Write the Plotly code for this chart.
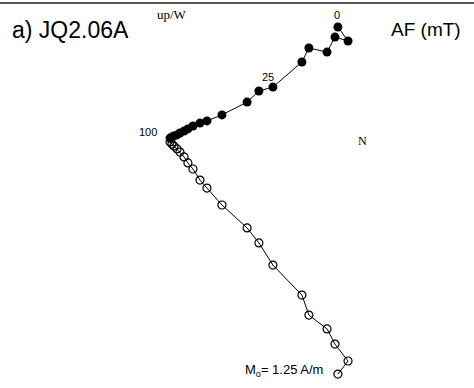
import plotly.graph_objects as go

af_mT = [0, 2.5, 5, 7.5, 10, 15, 25, 30, 35, 40, 45, 50, 55, 60, 65, 70, 75, 80, 90, 100]
north = [0.633, 0.675, 0.621, 0.588, 0.513, 0.484, 0.364, 0.306, 0.257, 0.153,
         0.091, 0.062, 0.033, 0.012, -0.004, -0.021, -0.033, -0.046, -0.054, -0.062]
west = [0.468, 0.410, 0.426, 0.364, 0.381, 0.323, 0.219, 0.203, 0.157, 0.104,
        0.079, 0.070, 0.058, 0.046, 0.037, 0.029, 0.021, 0.017, 0.012, 0.008]
up = [-0.969, -0.915, -0.845, -0.782, -0.725, -0.642, -0.518, -0.426, -0.364, -0.269,
      -0.199, -0.166, -0.120, -0.095, -0.070, -0.050, -0.037, -0.025, -0.017, -0.008]
labelled_steps = [0, 25, 100]

W, H = 474, 388
s = 0.00414          # A/m per pixel
ox, oy = 185, 140    # origin pixel
xr = [(0 - ox) * s, (W - ox) * s]
yr = [(oy - H) * s, (oy - 0) * s]

fig = go.Figure()
fig.add_trace(go.Scatter(x=north, y=up, mode="lines+markers",
                         line=dict(color="black", width=1),
                         marker=dict(symbol="circle-open", size=8, color="black",
                                     line=dict(width=1.2, color="black")),
                         showlegend=False, hoverinfo="skip"))
fig.add_trace(go.Scatter(x=north, y=west, mode="lines+markers",
                         line=dict(color="black", width=1),
                         marker=dict(symbol="circle", size=9, color="black"),
                         showlegend=False, hoverinfo="skip"))

shifts = {0: (-1, 12), 25: (-5, 10), 100: (-22, 6)}
for st in labelled_steps:
    i = af_mT.index(st)
    dx, dy = shifts[st]
    fig.add_annotation(x=north[i], y=west[i], xref="x", yref="y", text=str(st),
                       showarrow=False, xshift=dx, yshift=dy,
                       font=dict(family="Liberation Sans", size=11, color="black"))

def P(px, py):
    return px / W, 1 - py / H

anns = [
    ("a) JQ2.06A", 10, 30, 23, "Liberation Sans", "left"),
    ("AF (mT)", 463, 30, 19, "Liberation Sans", "right"),
    ("up/W", 172, 15, 13, "Liberation Serif", "center"),
    ("N", 362, 141, 12, "Liberation Serif", "center"),
    ("M<sub>o</sub>= 1.25 A/m", 243, 370, 13, "Liberation Sans", "left"),
]
for txt, px, py, sz, fam, xa in anns:
    x, y = P(px, py)
    fig.add_annotation(x=x, y=y, xref="paper", yref="paper", text=txt, showarrow=False,
                       xanchor=xa, yanchor="middle",
                       font=dict(family=fam, size=sz, color="black"))

fig.add_shape(type="line", xref="paper", yref="paper", x0=0, x1=1, y0=1 - 3 / H, y1=1 - 3 / H,
              line=dict(color="#555555", width=2))

fig.update_layout(width=W, height=H, margin=dict(l=0, r=0, t=0, b=0),
                  paper_bgcolor="white", plot_bgcolor="white",
                  xaxis=dict(range=xr, visible=False, fixedrange=True),
                  yaxis=dict(range=yr, visible=False, fixedrange=True))
fig.write_html("out.html")
